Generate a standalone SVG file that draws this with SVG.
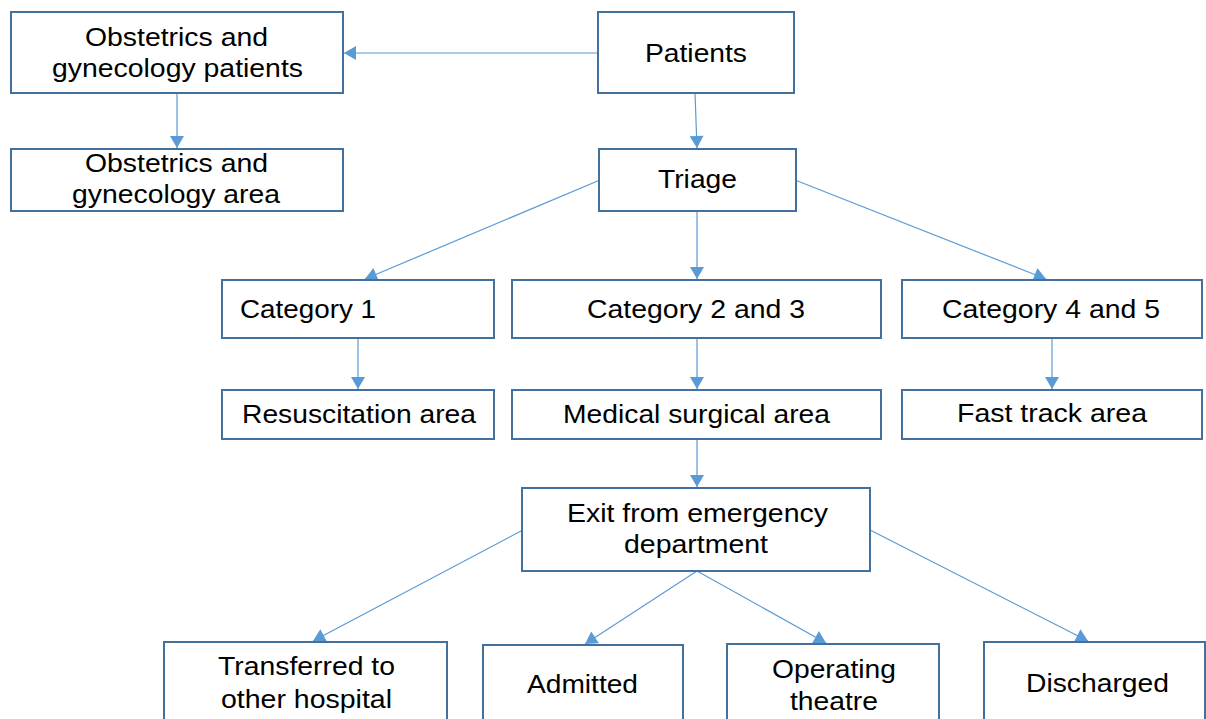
<svg xmlns="http://www.w3.org/2000/svg" width="1206" height="719" viewBox="0 0 1206 719">
<style>
.box{fill:#ffffff;stroke:#41719C;stroke-width:2}
.lbl{font-family:"Liberation Sans",Arial,sans-serif;font-size:25px;fill:#000000}
.con{stroke:#5B9BD5;stroke-width:1.2;fill:none;marker-end:url(#ah)}
</style>
<defs>
<marker id="ah" markerUnits="userSpaceOnUse" markerWidth="14" markerHeight="16" viewBox="0 -8 13 16" refX="12" refY="0" orient="auto">
<path d="M0,-7 L12,0 L0,7 z" fill="#5B9BD5"/>
</marker>
</defs>
<rect width="1206" height="719" fill="#ffffff"/>
<g id="connectors">
<line class="con" x1="598" y1="53" x2="344" y2="53"/>
<line class="con" x1="177" y1="93" x2="177" y2="148"/>
<line class="con" x1="695" y1="93" x2="697" y2="148"/>
<line class="con" x1="600" y1="180" x2="365" y2="279"/>
<line class="con" x1="697" y1="211" x2="697" y2="279"/>
<line class="con" x1="795" y1="180" x2="1046" y2="279"/>
<line class="con" x1="358" y1="338" x2="358" y2="389"/>
<line class="con" x1="697" y1="338" x2="697" y2="389"/>
<line class="con" x1="1052" y1="338" x2="1052" y2="389"/>
<line class="con" x1="697" y1="439" x2="697" y2="487"/>
<line class="con" x1="523" y1="530" x2="313" y2="641"/>
<line class="con" x1="697" y1="571" x2="585" y2="644"/>
<line class="con" x1="697" y1="571" x2="826" y2="643"/>
<line class="con" x1="870" y1="530" x2="1088" y2="641"/>
</g>
<g id="obst-patients">
<rect class="box" x="11" y="12" width="332" height="81"/>
<text class="lbl" x="85" y="46" textLength="183" lengthAdjust="spacingAndGlyphs">Obstetrics and</text>
<text class="lbl" x="52" y="77" textLength="251" lengthAdjust="spacingAndGlyphs">gynecology patients</text>
</g>
<g id="obst-area">
<rect class="box" x="11" y="149" width="332" height="62"/>
<text class="lbl" x="85" y="172" textLength="183" lengthAdjust="spacingAndGlyphs">Obstetrics and</text>
<text class="lbl" x="72" y="203" textLength="208" lengthAdjust="spacingAndGlyphs">gynecology area</text>
</g>
<g id="patients">
<rect class="box" x="598" y="12" width="196" height="81"/>
<text class="lbl" x="645" y="62" textLength="102" lengthAdjust="spacingAndGlyphs">Patients</text>
</g>
<g id="triage">
<rect class="box" x="599" y="149" width="197" height="62"/>
<text class="lbl" x="658" y="188" textLength="79" lengthAdjust="spacingAndGlyphs">Triage</text>
</g>
<g id="cat1">
<rect class="box" x="222" y="280" width="272" height="58"/>
<text class="lbl" x="240" y="318" textLength="136" lengthAdjust="spacingAndGlyphs">Category 1</text>
</g>
<g id="cat23">
<rect class="box" x="512" y="280" width="369" height="58"/>
<text class="lbl" x="587" y="318" textLength="218" lengthAdjust="spacingAndGlyphs">Category 2 and 3</text>
</g>
<g id="cat45">
<rect class="box" x="902" y="280" width="300" height="58"/>
<text class="lbl" x="942" y="318" textLength="218" lengthAdjust="spacingAndGlyphs">Category 4 and 5</text>
</g>
<g id="resus">
<rect class="box" x="222" y="390" width="272" height="49"/>
<text class="lbl" x="242" y="423" textLength="234" lengthAdjust="spacingAndGlyphs">Resuscitation area</text>
</g>
<g id="medsurg">
<rect class="box" x="512" y="390" width="369" height="49"/>
<text class="lbl" x="563" y="423" textLength="267" lengthAdjust="spacingAndGlyphs">Medical surgical area</text>
</g>
<g id="fasttrack">
<rect class="box" x="902" y="390" width="300" height="49"/>
<text class="lbl" x="957" y="422" textLength="190" lengthAdjust="spacingAndGlyphs">Fast track area</text>
</g>
<g id="exit">
<rect class="box" x="522" y="488" width="348" height="83"/>
<text class="lbl" x="567" y="522" textLength="261" lengthAdjust="spacingAndGlyphs">Exit from emergency</text>
<text class="lbl" x="624" y="553" textLength="144" lengthAdjust="spacingAndGlyphs">department</text>
</g>
<g id="transferred">
<rect class="box" x="164" y="642" width="283" height="90"/>
<text class="lbl" x="218" y="675" textLength="177" lengthAdjust="spacingAndGlyphs">Transferred to</text>
<text class="lbl" x="221" y="708" textLength="171" lengthAdjust="spacingAndGlyphs">other hospital</text>
</g>
<g id="admitted">
<rect class="box" x="483" y="645" width="200" height="90"/>
<text class="lbl" x="527" y="693" textLength="111" lengthAdjust="spacingAndGlyphs">Admitted</text>
</g>
<g id="operating">
<rect class="box" x="727" y="644" width="212" height="90"/>
<text class="lbl" x="772" y="678" textLength="124" lengthAdjust="spacingAndGlyphs">Operating</text>
<text class="lbl" x="790" y="710" textLength="88" lengthAdjust="spacingAndGlyphs">theatre</text>
</g>
<g id="discharged">
<rect class="box" x="984" y="642" width="221" height="90"/>
<text class="lbl" x="1026" y="692" textLength="143" lengthAdjust="spacingAndGlyphs">Discharged</text>
</g>
</svg>
